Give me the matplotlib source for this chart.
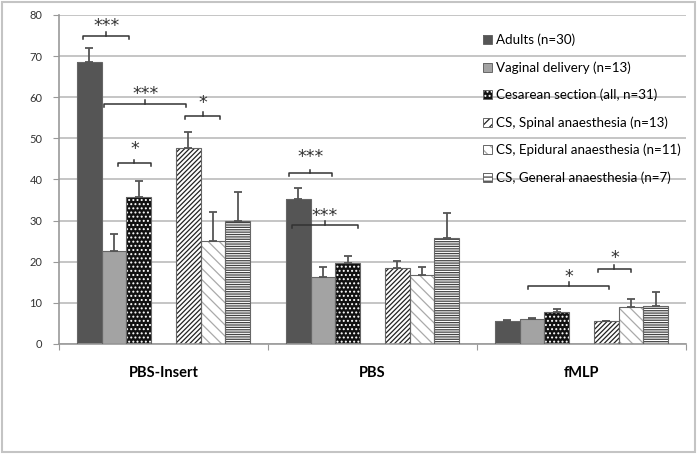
import numpy as np
import matplotlib
matplotlib.use("Agg")
import matplotlib.pyplot as plt
from matplotlib.patches import Patch, Rectangle

# === Data ===
conditions = ["PBS-Insert", "PBS", "fMLP"]
groups = ["Adults (n=30)", "Vaginal delivery (n=13)", "Cesarean section (all, n=31)",
          "CS, Spinal anaesthesia (n=13)", "CS, Epidural anaesthesia (n=11)",
          "CS, General anaesthesia (n=7)"]

adults = [68.5, 35.2, 5.6]
vaginal = [22.5, 16.3, 6.0]
cesarean = [35.7, 19.6, 7.7]
spinal = [47.6, 18.6, 5.5]
epidural = [25.1, 16.8, 9.0]
general = [30.0, 25.8, 9.2]

adults_err = [3.5, 2.7, 0.2]
vaginal_err = [4.2, 2.4, 0.3]
cesarean_err = [4.0, 1.9, 0.8]
spinal_err = [4.0, 1.6, 0.1]
epidural_err = [7.0, 2.0, 1.9]
general_err = [7.0, 6.0, 3.5]

# significance brackets: (condition index, slot from, slot to, bracket y, text y, label)
brackets = [
    (0, -0.24, 1.62, 74.9, 77.4, "***"),
    (0, 0.61, 3.93, 58.4, 60.8, "***"),
    (0, 3.89, 5.27, 55.5, 58.7, "*"),
    (0, 1.14, 2.51, 43.9, 47.3, "*"),
    (1, -0.40, 1.38, 41.5, 45.4, "***"),
    (1, -0.27, 2.43, 28.9, 31.1, "***"),
    (2, 0.85, 4.13, 14.1, 16.4, "*"),
    (2, 3.65, 5.02, 18.3, 20.8, "*"),
]

# === Style ===
plt.rcParams["font.family"] = ["Lato", "DejaVu Sans"]
plt.rcParams["hatch.linewidth"] = 0.9

styles = [
    dict(color="#555555", hatch=None, hatchcolor=None),
    dict(color="#a3a3a3", hatch=None, hatchcolor=None),
    dict(color="#111111", hatch="....", hatchcolor="white"),
    dict(color="white", hatch="///////", hatchcolor="#222222"),
    dict(color="white", hatch="\\\\\\", hatchcolor="#aaaaaa"),
    dict(color="white", hatch="-------", hatchcolor="#444444"),
]
slots = [0, 1, 2, 4, 5, 6]
values = [adults, vaginal, cesarean, spinal, epidural, general]
errors = [adults_err, vaginal_err, cesarean_err, spinal_err, epidural_err, general_err]

fig = plt.figure(figsize=(6.99, 4.54), dpi=100)
ax = fig.add_axes([0.0844, 0.2423, 0.8970, 0.7247])

w = 0.1182
x = np.arange(len(conditions))

for vals, errs, slot, st in zip(values, errors, slots, styles):
    pos = x + (slot - 3) * w
    if st["hatch"]:
        ax.bar(pos, vals, w, color=st["color"], edgecolor=st["hatchcolor"],
               hatch=st["hatch"], linewidth=0, zorder=2)
    else:
        ax.bar(pos, vals, w, color=st["color"], linewidth=0, zorder=2)
    ax.bar(pos, vals, w, fill=False, edgecolor="#666666", linewidth=0.8, zorder=3)
    ax.errorbar(pos, vals, yerr=[np.zeros(len(errs)), errs], fmt="none",
                ecolor="#555555", elinewidth=1.3, capsize=3, capthick=1.3, zorder=4)

# === Brackets ===
for cond, s0, s1, yb, yt, lab in brackets:
    x0 = cond + (s0 - 3) * w
    x1 = cond + (s1 - 3) * w
    xm = (x0 + x1) / 2
    ax.plot([x0, x0, x1, x1], [yb - 0.7, yb, yb, yb - 0.7], color="#333333", lw=1.1, zorder=5)
    ax.plot([xm, xm], [yb, yb + 0.9], color="#333333", lw=1.1, zorder=5)
    ax.text(xm, yt, lab, ha="center", va="center", fontsize=12.5, color="#333333",
            family="DejaVu Sans", zorder=6)

# === Axes ===
ax.set_xlim(-0.5, 2.5)
ax.set_ylim(0, 80)
ax.set_yticks(np.arange(0, 81, 10))
ax.yaxis.grid(True, color="#bbbbbb", linewidth=1.2, zorder=0)
ax.set_axisbelow(True)
ax.tick_params(axis="y", length=4, color="#999999", labelsize=8, labelcolor="#333333", pad=8)
ax.set_xticks([-0.5, 0.5, 1.5, 2.5])
ax.set_xticklabels([])
ax.tick_params(axis="x", which="major", length=4, color="#999999")
ax.set_xticks(x, minor=True)
ax.set_xticklabels(conditions, minor=True, fontsize=10.5, fontweight="bold")
ax.tick_params(axis="x", which="minor", length=0, pad=16)
for side in ["top", "right"]:
    ax.spines[side].set_visible(False)
for side in ["left", "bottom"]:
    ax.spines[side].set_color("#999999")
    ax.spines[side].set_linewidth(1.2)

# === Legend ===
handles = []
for st in styles:
    outline = Patch(facecolor="none", edgecolor="#666666", linewidth=0.7)
    if st["hatch"]:
        fill = Patch(facecolor=st["color"], edgecolor=st["hatchcolor"],
                     hatch=st["hatch"][:4], linewidth=0)
    else:
        fill = Patch(facecolor=st["color"], linewidth=0)
    handles.append((fill, outline))
fig.legend(handles, groups, loc="upper left", bbox_to_anchor=(0.683, 0.937),
           frameon=False, fontsize=9.6, handlelength=0.7, handleheight=0.7,
           handletextpad=0.3, labelspacing=1.12, borderaxespad=0)

# === Border ===
fig.patches.append(Rectangle((0.003, 0.004), 0.991, 0.991, transform=fig.transFigure,
                             fill=False, edgecolor="#c4c4c4", linewidth=1.5))

plt.savefig("out.png", dpi=100)
